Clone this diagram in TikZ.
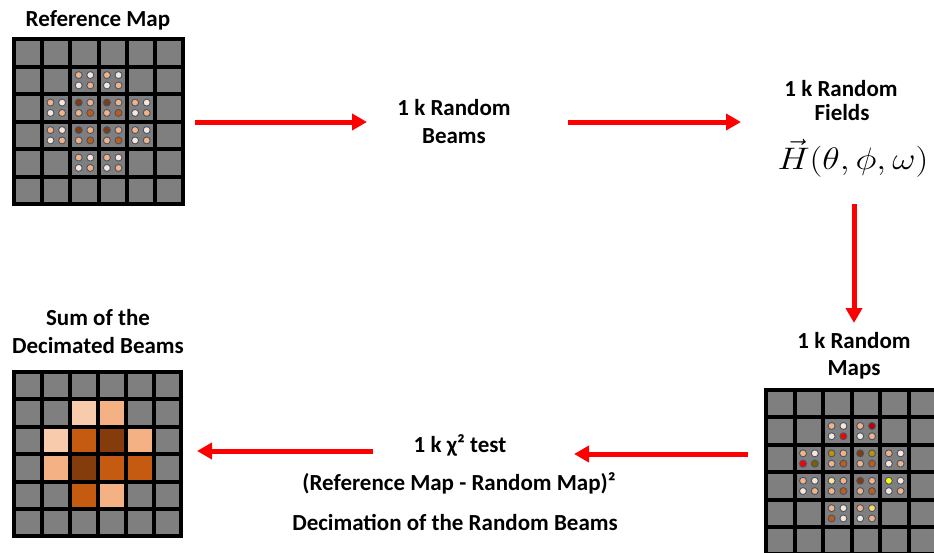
\documentclass[tikz,border=0pt]{standalone}
\usepackage{fontspec}
\setmainfont{Carlito}
\usetikzlibrary{arrows.meta}
\definecolor{cellgray}{HTML}{7F7F7F}
\definecolor{cpeach}{HTML}{F4B183}
\definecolor{cpale}{HTML}{FBE5D6}
\definecolor{clpeach}{HTML}{F8CBAD}
\definecolor{corng}{HTML}{C55A11}
\definecolor{cdbrown}{HTML}{843C0C}
\definecolor{cred}{HTML}{FF0000}
\definecolor{cdred}{HTML}{C00000}
\definecolor{colive}{HTML}{7F6000}
\definecolor{cgold}{HTML}{BF9000}
\definecolor{clyellow}{HTML}{FFE699}
\definecolor{cyellow}{HTML}{FFFF00}
\definecolor{cygold}{HTML}{FFD966}
\definecolor{coutline}{HTML}{44546A}
\tikzset{
  lbl/.style={font=\fontsize{23}{28}\selectfont\bfseries, anchor=base, inner sep=0pt},
  flow/.style={draw=red, color=red, line width=5pt, -{Triangle[length=15pt,width=16pt]}},
  dotc/.style={draw=coutline, line width=0.9pt}
}
\def\lw{4}
\newcommand{\drawmygrid}{%
  \fill[black] (\gx,\gy) rectangle ({\gx+6*\gpx+\lw},{\gy+6*\gpy+\lw});
  \foreach \i in {0,...,5}{\foreach \j in {0,...,5}{
    \fill[cellgray] ({\gx+\lw+\i*\gpx},{\gy+\lw+\j*\gpy}) rectangle ({\gx+(\i+1)*\gpx},{\gy+(\j+1)*\gpy});
  }}}
\newcommand{\dotcell}[6]{%
  \pgfmathsetmacro{\xa}{\gx+\lw+#1*\gpx+0.26*(\gpx-\lw)}
  \pgfmathsetmacro{\xb}{\gx+\lw+#1*\gpx+0.74*(\gpx-\lw)}
  \pgfmathsetmacro{\ya}{\gy+\lw+#2*\gpy+0.28*(\gpy-\lw)}
  \pgfmathsetmacro{\yb}{\gy+\lw+#2*\gpy+0.72*(\gpy-\lw)}
  \filldraw[dotc, fill=#3] (\xa,\ya) circle[radius=3.5];
  \filldraw[dotc, fill=#4] (\xb,\ya) circle[radius=3.5];
  \filldraw[dotc, fill=#5] (\xa,\yb) circle[radius=3.5];
  \filldraw[dotc, fill=#6] (\xb,\yb) circle[radius=3.5];
}
\newcommand{\sqcell}[3]{%
  \fill[#3] ({\gx+\lw+#1*\gpx},{\gy+\lw+#2*\gpy}) rectangle ({\gx+(#1+1)*\gpx},{\gy+(#2+1)*\gpy});
}
\begin{document}
\begin{tikzpicture}[x=1pt,y=-1pt]
\useasboundingbox (0,0) rectangle (934,552);
\clip (0,0) rectangle (934,552);
% Reference map grid
\def\gx{12}\def\gy{37}\def\gpx{28.2}\def\gpy{27.5}
\drawmygrid
\dotcell{2}{1}{cpeach}{cpale}{cpale}{cpeach}
\dotcell{3}{1}{cpeach}{cpale}{cpale}{cpeach}
\dotcell{1}{2}{cpeach}{cpale}{cpale}{cpeach}
\dotcell{2}{2}{cdbrown}{cpeach}{cpeach}{corng}
\dotcell{3}{2}{cdbrown}{cpeach}{cpeach}{corng}
\dotcell{4}{2}{cpeach}{cpale}{cpale}{cpeach}
\dotcell{1}{3}{cpeach}{cpale}{cpale}{cpeach}
\dotcell{2}{3}{cdbrown}{cpeach}{cpeach}{corng}
\dotcell{3}{3}{cdbrown}{cpeach}{cpeach}{corng}
\dotcell{4}{3}{cpeach}{cpale}{cpale}{cpeach}
\dotcell{2}{4}{cpeach}{cpale}{cpale}{cpeach}
\dotcell{3}{4}{cpeach}{cpale}{cpale}{cpeach}
% Random maps grid
\def\gx{764}\def\gy{388}\def\gpx{28.6}\def\gpy{27.4}
\drawmygrid
\dotcell{2}{1}{cpeach}{cpale}{cpale}{cred}
\dotcell{3}{1}{cpeach}{cdred}{cpale}{cpeach}
\dotcell{1}{2}{cpeach}{cpale}{cred}{colive}
\dotcell{2}{2}{cgold}{cpeach}{cpeach}{corng}
\dotcell{3}{2}{cdbrown}{cgold}{cpeach}{corng}
\dotcell{4}{2}{cpeach}{cpale}{cpale}{cpeach}
\dotcell{1}{3}{cpeach}{cpale}{cpale}{cpeach}
\dotcell{2}{3}{clyellow}{cpeach}{cpeach}{corng}
\dotcell{3}{3}{cdbrown}{cpeach}{cpeach}{corng}
\dotcell{4}{3}{cyellow}{cpale}{cpale}{cpeach}
\dotcell{2}{4}{cpeach}{cpale}{corng}{cpale}
\dotcell{3}{4}{cpeach}{cygold}{cpale}{cpeach}
% Sum grid
\def\gx{12}\def\gy{370}\def\gpx{27.9}\def\gpy{27.4}
\drawmygrid
\sqcell{2}{1}{clpeach}
\sqcell{3}{1}{cpeach}
\sqcell{1}{2}{clpeach}
\sqcell{2}{2}{corng}
\sqcell{3}{2}{cdbrown}
\sqcell{4}{2}{cpeach}
\sqcell{1}{3}{cpeach}
\sqcell{2}{3}{cdbrown}
\sqcell{3}{3}{corng}
\sqcell{4}{3}{corng}
\sqcell{2}{4}{corng}
\sqcell{3}{4}{cpeach}
% Labels
\node[lbl] (refT) at (98,26) {Reference Map};
\node[lbl] (beamsA) at (454,115) {1 k Random};
\node[lbl] (beamsB) at (454,143) {Beams};
\node[lbl] (fieldsA) at (841,96) {1 k Random};
\node[lbl] (fieldsB) at (842,120) {Fields};
\node[anchor=base, inner sep=0pt] (fieldsH) at (853,169) {\scalebox{1.45}[1.25]{\Huge$\vec{H}(\theta,\phi,\omega)$}};
\node[lbl] (mapsA) at (854,348) {1 k Random};
\node[lbl] (mapsB) at (854,375) {Maps};
\node[lbl] (sumA) at (98,325) {Sum of the};
\node[lbl] (sumB) at (98,353) {Decimated Beams};
\node[lbl] (chiA) at (460,452) {1 k χ² test};
\node[lbl] (chiB) at (459,490) {(Reference Map - Random Map)²};
\node[lbl] (chiC) at (455,530) {Decimation of the Random Beams};
% Arrow end points
\coordinate (a1s) at (195,122); \coordinate (a1e) at (367,122);
\coordinate (a2s) at (568,122); \coordinate (a2e) at (741,122);
\coordinate (a3s) at (854,204); \coordinate (a3e) at (854,323);
\coordinate (a4s) at (748,454); \coordinate (a4e) at (574,454);
\coordinate (a5s) at (373,451); \coordinate (a5e) at (197,451);
\draw[flow] (a1s) -- (a1e);
\draw[flow] (a2s) -- (a2e);
\draw[flow] (a3s) -- (a3e);
\draw[flow] (a4s) -- (a4e);
\draw[flow] (a5s) -- (a5e);
\end{tikzpicture}
\end{document}
